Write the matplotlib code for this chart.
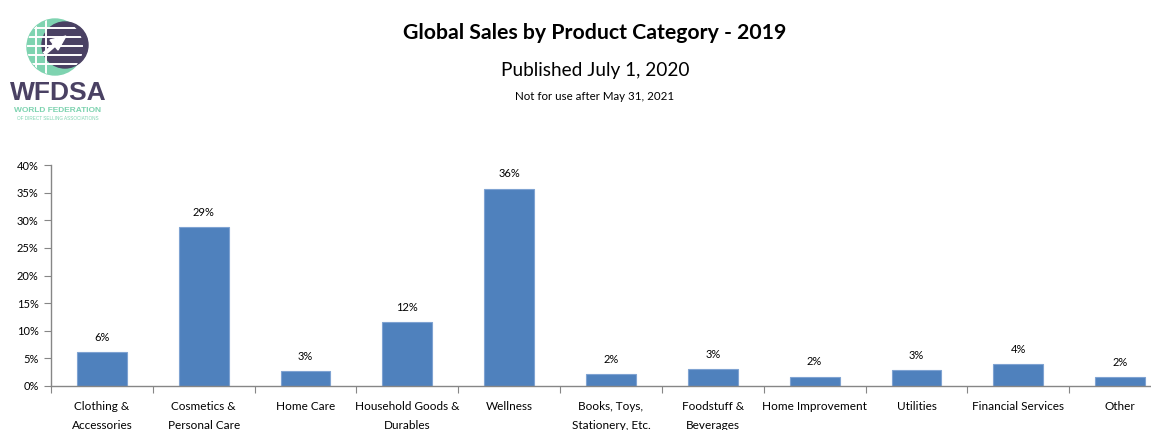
import matplotlib.pyplot as plt
from matplotlib.patches import Circle, Polygon
from matplotlib.ticker import PercentFormatter

plt.rcParams['font.family'] = ['Lato', 'DejaVu Sans']

categories = ['Clothing &\nAccessories', 'Cosmetics &\nPersonal Care', 'Home Care',
              'Household Goods &\nDurables', 'Wellness', 'Books, Toys,\nStationery, Etc.',
              'Foodstuff &\nBeverages', 'Home Improvement', 'Utilities',
              'Financial Services', 'Other']
share = [6.1, 28.7, 2.7, 11.5, 35.7, 2.1, 3.0, 1.7, 2.9, 3.9, 1.6]
y_ticks = [0, 5, 10, 15, 20, 25, 30, 35, 40]

BLUE = '#4F81BD'
GREY = '#868686'
W, H = 1151, 430


def draw_logo(fig):
    ax = fig.add_axes([0, 1 - 130 / H, 130 / W, 130 / H])
    ax.set_xlim(0, 130)
    ax.set_ylim(130, 0)
    ax.axis('off')
    purple = '#4A4163'
    green = '#7ED3B0'
    globe = Circle((55, 47), 28, color=green)
    ax.add_patch(globe)
    # grid on the green half of the globe
    for gy in (28, 37, 46, 55, 64):
        ln, = ax.plot([20, 90], [gy, gy], color='white', lw=1.4)
        ln.set_clip_path(globe)
    for gx in (36, 46):
        ln, = ax.plot([gx, gx], [10, 90], color='white', lw=1.4)
        ln.set_clip_path(globe)
    ax.add_patch(Circle((65, 45), 23, color=purple))
    # arrow pointing up and right
    ax.add_patch(Polygon([[50, 40], [66, 36], [58, 50]], color='white'))
    ax.plot([44, 58], [54, 42], color='white', lw=3, solid_capstyle='butt')
    logo_font = ['Liberation Sans', 'DejaVu Sans']
    ax.text(58, 93, 'WFDSA', ha='center', va='center', fontsize=19,
            fontweight='bold', color=purple, family=logo_font)
    ax.text(58, 111, 'WORLD FEDERATION', ha='center', va='center', fontsize=6,
            fontweight='bold', color=green, family=logo_font)
    ax.text(58, 119, 'OF DIRECT SELLING ASSOCIATIONS', ha='center', va='center',
            fontsize=3.3, color=green, family=logo_font)


def main():
    fig = plt.figure(figsize=(W / 100, H / 100), dpi=100)

    fig.text(595 / W, 1 - 33 / H, 'Global Sales by Product Category - 2019',
             ha='center', va='center', fontsize=15.3, fontweight='bold')
    fig.text(595 / W, 1 - 70 / H, 'Published July 1, 2020',
             ha='center', va='center', fontsize=13.7)
    fig.text(595 / W, 1 - 97 / H, 'Not for use after May 31, 2021',
             ha='center', va='center', fontsize=8.3)

    draw_logo(fig)

    ax = fig.add_axes([51 / W, 44 / H, 1120 / W, 221 / H])
    x = range(len(categories))
    ax.bar(x, share, width=0.49, color=BLUE, edgecolor='#7FA3D2', linewidth=0.8)
    for xi, v in zip(x, share):
        ax.text(xi, v + 1.7, '{:.0f}%'.format(v), ha='center', va='bottom', fontsize=8)

    ax.set_xlim(-0.5, len(categories) - 0.5)
    ax.set_ylim(0, 40)
    ax.set_yticks(y_ticks)
    ax.yaxis.set_major_formatter(PercentFormatter(decimals=0))
    ax.tick_params(axis='y', length=5, color=GREY, labelsize=8, pad=4)

    # category labels sit between the boundary ticks
    ax.set_xticks([i - 0.5 for i in range(len(categories) + 1)])
    ax.set_xticklabels([])
    ax.tick_params(axis='x', length=5, color=GREY)
    ax.set_xticks(list(x), minor=True)
    ax.set_xticklabels(categories, minor=True, fontsize=8.5, linespacing=1.85)
    ax.tick_params(axis='x', which='minor', length=0, pad=11)

    for side in ('top', 'right'):
        ax.spines[side].set_visible(False)
    for side in ('left', 'bottom'):
        ax.spines[side].set_color(GREY)
        ax.spines[side].set_linewidth(1)

    fig.savefig('out.png', dpi=100)


if __name__ == '__main__':
    main()
